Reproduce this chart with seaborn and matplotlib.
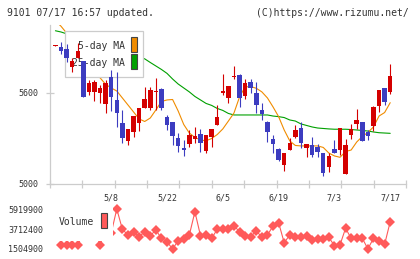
import numpy as np
import pandas as pd
import matplotlib
matplotlib.use('Agg')
import matplotlib.pyplot as plt
import seaborn as sns
from matplotlib.patches import Rectangle
from matplotlib.transforms import blended_transform_factory

# --- daily candles, oldest first (last one is 7/17) ---
opens = [5910, 5905, 5890, 5768, 5833, 5811, 5609, 5605, 5598, 5527,
         5708, 5554, 5400, 5285, 5345, 5400, 5504, 5504, 5605, 5626,
         5440, 5411, 5301, 5232, 5264, 5297, 5330, 5220, 5308, 5389,
         5598, 5569, 5704, 5718, 5580, 5671, 5602, 5488, 5411, 5295,
         5229, 5125, 5224, 5308, 5367, 5235, 5257, 5242, 5202, 5114,
         5231, 5224, 5066, 5323, 5396, 5411, 5345, 5382, 5516, 5635,
         5609]
highs = [5914, 5938, 5923, 5829, 5928, 5811, 5686, 5686, 5653, 5686,
         5750, 5740, 5488, 5363, 5448, 5499, 5642, 5642, 5697, 5630,
         5455, 5411, 5334, 5290, 5356, 5378, 5360, 5323, 5363, 5521,
         5725, 5646, 5775, 5725, 5690, 5690, 5671, 5536, 5418, 5323,
         5236, 5207, 5300, 5389, 5411, 5264, 5312, 5264, 5202, 5202,
         5290, 5367, 5297, 5396, 5494, 5411, 5356, 5516, 5620, 5635,
         5791]
lows = [5910, 5857, 5806, 5741, 5833, 5576, 5587, 5549, 5536, 5470,
        5480, 5378, 5268, 5257, 5308, 5351, 5504, 5488, 5488, 5488,
        5356, 5257, 5213, 5185, 5242, 5272, 5213, 5202, 5242, 5389,
        5587, 5536, 5692, 5510, 5558, 5598, 5466, 5422, 5280, 5206,
        5150, 5088, 5224, 5300, 5235, 5176, 5176, 5180, 5053, 5082,
        5207, 5191, 5066, 5294, 5363, 5283, 5290, 5349, 5477, 5521,
        5591]
closes = [5914, 5874, 5829, 5813, 5879, 5576, 5668, 5672, 5635, 5668,
          5572, 5470, 5301, 5363, 5448, 5499, 5558, 5620, 5612, 5499,
          5389, 5316, 5250, 5226, 5323, 5316, 5272, 5323, 5363, 5444,
          5613, 5646, 5708, 5565, 5668, 5631, 5521, 5462, 5345, 5264,
          5158, 5207, 5273, 5356, 5268, 5264, 5191, 5213, 5075, 5185,
          5207, 5367, 5257, 5360, 5422, 5283, 5319, 5510, 5620, 5539,
          5712]
ma5 = [6075, 6040, 5995, 5930, 5865, 5800, 5760, 5725, 5700, 5657,
       5633, 5613, 5567, 5521, 5475, 5429, 5412, 5435, 5488, 5544,
       5554, 5557, 5481, 5392, 5336, 5307, 5290, 5285, 5300, 5326,
       5363, 5415, 5468, 5574, 5640, 5642, 5631, 5607, 5567, 5508,
       5444, 5356, 5284, 5254, 5251, 5251, 5251, 5251, 5241, 5204,
       5185, 5176, 5214, 5224, 5277, 5313, 5340, 5376, 5448, 5471,
       5536]
ma25 = [6010, 6002, 5990, 5978, 5967, 5955, 5943, 5931, 5920, 5908,
        5896, 5884, 5872, 5860, 5848, 5836, 5825, 5801, 5778, 5755,
        5729, 5692, 5659, 5633, 5607, 5577, 5554, 5531, 5518, 5498,
        5485, 5465, 5455, 5455, 5455, 5455, 5455, 5455, 5455, 5448,
        5444, 5438, 5422, 5415, 5396, 5386, 5376, 5369, 5366, 5363,
        5361, 5361, 5361, 5359, 5356, 5353, 5349, 5343, 5338, 5336,
        5334]
volume = [np.nan, 1950000, 1900000, 1950000, 1990000, 3200000, 3000000, 3600000, 2000000, 3600000,
          3270000, 5919900, 3680000, 3050000, 3410000, 2860000, 3410000, 2970000, 3600000, 2680000,
          2310000, 1504900, 2420000, 2580000, 3050000, 5620000, 2970000, 3050000, 2680000, 3680000,
          3680000, 3680000, 4070000, 3410000, 2970000, 2860000, 3520000, 2790000, 3050000, 4040000,
          4410000, 2200000, 3050000, 2860000, 2860000, 2970000, 2500000, 2580000, 2580000, 2790000,
          1870000, 1950000, 3790000, 2680000, 2680000, 2680000, 1520000, 2680000, 2420000, 2020000,
          4520000]
date_labels = ['5/8', '5/22', '6/5', '6/19', '7/3', '7/17']
date_pos = [10, 20, 30, 40, 50, 60]
price_ticks = [5000, 5600]
vol_ticks = [1504900, 3712400, 5919900]

UP, DOWN = '#d40000', '#3c3cc0'
ORANGE, GREEN, VOLC = '#f08c00', '#00a000', '#ff5a5a'
GRAY, TXT = '#cccccc', '#333333'

sns.set_theme(style='white')
plt.rcParams['font.family'] = ['DejaVu Sans Mono']

df = pd.DataFrame({'day': np.arange(len(closes)), 'open': opens, 'high': highs,
                   'low': lows, 'close': closes, 'ma5': ma5, 'ma25': ma25,
                   'volume': volume})
df['color'] = np.where(df['close'] >= df['open'], UP, DOWN)

W, H = 420, 259
fig = plt.figure(figsize=(W / 100, H / 100), dpi=100)
fig.patch.set_facecolor('white')

def fx(x):
    return x / W

def fy(y):
    return 1 - y / H

ax = fig.add_axes([fx(50), fy(184), 356 / W, 159 / H])
axv = fig.add_axes([fx(50), fy(254), 356 / W, 50 / H])
xlim = (-0.971, 62.83)

# --- price panel ---
sns.lineplot(data=df, x='day', y='ma25', ax=ax, color=GREEN, lw=0.8, zorder=2)
sns.lineplot(data=df, x='day', y='ma5', ax=ax, color=ORANGE, lw=0.8, zorder=2)

ax.vlines(df['day'], df['low'], df['high'], colors=df['color'], lw=0.8, zorder=5)
body = (df['close'] - df['open']).abs().clip(lower=8)
bottom = df[['open', 'close']].min(axis=1)
ax.bar(df['day'], body, bottom=bottom, width=0.8, color=df['color'], lw=0, zorder=6)

ax.set_xlim(xlim)
ax.set_ylim(5000, 6048)
ax.set_xlabel('')
ax.set_ylabel('')
ax.set_facecolor('white')
for s in ['top', 'right']:
    ax.spines[s].set_visible(False)
for s in ['left', 'bottom']:
    ax.spines[s].set_color(GRAY)
    ax.spines[s].set_linewidth(0.9)
ax.set_xticks(np.linspace(xlim[0], xlim[1], 12))
ax.set_xticklabels([])
ax.set_yticks(price_ticks)
ax.set_yticklabels([str(v) for v in price_ticks])
ax.tick_params(axis='both', direction='inout', length=6, width=0.9, color=GRAY,
               labelsize=6, labelcolor=TXT, pad=5)
ax.tick_params(axis='x', bottom=True)
ax.tick_params(axis='y', left=True)

# date labels between panels
trans = blended_transform_factory(ax.transData, fig.transFigure)
for pos, lab in zip(date_pos, date_labels):
    ax.text(pos, fy(198), lab, transform=trans, ha='center', va='center',
            fontsize=6, color=TXT, clip_on=False)

# price legend (candles stay on top of it)
ax.add_patch(Rectangle((fx(65), fy(77)), 78 / W, 46.5 / H, transform=fig.transFigure,
                       facecolor='white', edgecolor=GRAY, lw=0.9, zorder=3))
ax.text(fx(125), fy(46), '5-day MA', transform=fig.transFigure, ha='right', va='center',
        fontsize=7, color=TXT, zorder=4)
ax.text(fx(125), fy(63), '25-day MA', transform=fig.transFigure, ha='right', va='center',
        fontsize=7, color=TXT, zorder=4)
ax.add_patch(Rectangle((fx(131), fy(52)), 6 / W, 15 / H, transform=fig.transFigure,
                       facecolor=ORANGE, edgecolor='#444444', lw=0.8, zorder=4))
ax.add_patch(Rectangle((fx(131), fy(69)), 6 / W, 15 / H, transform=fig.transFigure,
                       facecolor=GREEN, edgecolor='#444444', lw=0.8, zorder=4))

# --- volume panel ---
sns.lineplot(data=df, x='day', y='volume', ax=axv, color=VOLC, lw=0.8,
             marker='D', markersize=4.8, markeredgewidth=0, zorder=2)
axv.set_xlim(xlim)
axv.set_ylim(953000, 6472000)
axv.set_xlabel('')
axv.set_ylabel('')
axv.set_facecolor('white')
for s in axv.spines.values():
    s.set_visible(False)
axv.set_xticks([])
axv.set_yticks(vol_ticks)
axv.set_yticklabels([str(v) for v in vol_ticks])
axv.tick_params(axis='y', length=0, labelsize=6, labelcolor=TXT, pad=5)

axv.add_patch(Rectangle((fx(55), fy(240.5)), 58 / W, 37.5 / H, transform=fig.transFigure,
                        facecolor='white', edgecolor='none', zorder=3))
axv.text(fx(59), fy(222), 'Volume', transform=fig.transFigure, ha='left', va='center',
         fontsize=7, color=TXT, zorder=4)
axv.add_patch(Rectangle((fx(101), fy(228)), 6 / W, 15 / H, transform=fig.transFigure,
                        facecolor=VOLC, edgecolor='#444444', lw=0.8, zorder=4))

# header
fig.text(fx(7), fy(13), '9101 07/17 16:57 updated.', ha='left', va='center',
         fontsize=7, color=TXT)
fig.text(fx(409), fy(13), '(C)https://www.rizumu.net/', ha='right', va='center',
         fontsize=7, color=TXT)

fig.savefig('out.png', dpi=100, facecolor='white')
